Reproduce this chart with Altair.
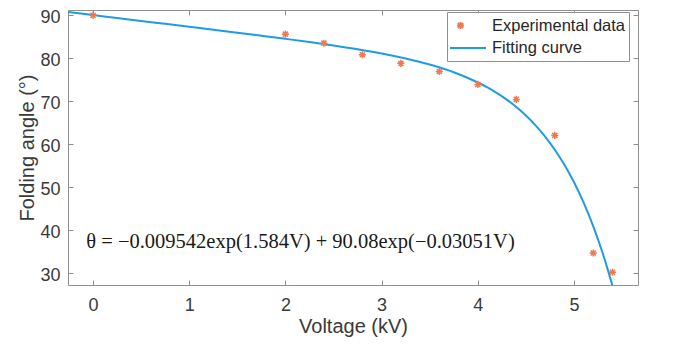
import altair as alt
import pandas as pd

exp_voltage = [0, 2.0, 2.4, 2.8, 3.2, 3.6, 4.0, 4.4, 4.8, 5.2, 5.4]
exp_angle = [90.0, 85.6, 83.5, 80.8, 78.8, 76.9, 73.9, 70.4, 62.0, 34.6, 30.1]

# Fitting curve samples
fit_voltage = [-0.26, 0, 0.25, 0.5, 0.75, 1.0, 1.25, 1.5, 1.75, 2.0, 2.25, 2.5, 2.75,
               3.0, 3.25, 3.5, 3.75, 4.0, 4.1, 4.2, 4.3, 4.4, 4.5, 4.6, 4.7, 4.8,
               4.9, 5.0, 5.1, 5.2, 5.3, 5.35, 5.4]
fit_angle = [90.79, 90.07, 89.38, 88.69, 88.01, 87.33, 86.64, 85.95, 85.24, 84.52,
             83.77, 82.96, 82.09, 81.10, 79.93, 78.52, 76.72, 74.34, 73.18, 71.85,
             70.34, 68.61, 66.63, 64.35, 61.72, 58.67, 55.15, 51.07, 46.33, 40.81,
             34.40, 30.78, 26.92]

series_names = ["Experimental data", "Fitting curve"]
series_colors = ["#EE7A4E", "#1F9BE6"]
x_ticks = [0, 1, 2, 3, 4, 5]
y_ticks = [30, 40, 50, 60, 70, 80, 90]
x_domain = [-0.26, 5.665]
y_domain = [27.13, 91.24]

equation = "θ = −0.009542exp(1.584V) + 90.08exp(−0.03051V)"
eq_x = [-0.07]
eq_y = [37.2]

W, H = 570, 275
FONT = "Liberation Sans"
TXT = "#3a3a3a"
FRAME = "#8f8f8f"

# symbol paths (unit: sqrt(size)/2 = 8.5 px)
asterisk = "M-0.42,0L0.42,0M0,-0.42L0,0.42M-0.3,-0.3L0.3,0.3M-0.3,0.3L0.3,-0.3"
line_sym = "M-1.24,0L3.0,0"

exp_df = pd.DataFrame({"V": exp_voltage, "A": exp_angle,
                       "series": ["Experimental data"] * len(exp_voltage)})
fit_df = pd.DataFrame({"V": fit_voltage, "A": fit_angle})
eq_df = pd.DataFrame({"V": eq_x, "A": eq_y, "t": [equation]})

xscale = alt.Scale(domain=x_domain, nice=False, zero=False)
yscale = alt.Scale(domain=y_domain, nice=False, zero=False)

xaxis = alt.Axis(values=x_ticks, format="d", title="Voltage (kV)", domain=False, ticks=False,
                 grid=True, gridColor=FRAME, gridWidth=1, gridOpacity=1,
                 gridDash=[5, H - 10, 5, 2000],
                 labelFont=FONT, labelFontSize=18, labelColor=TXT, labelPadding=11,
                 titleFont=FONT, titleFontSize=20, titleFontWeight="normal",
                 titleColor=TXT, titlePadding=2)
yaxis = alt.Axis(values=y_ticks, format="d", title="Folding angle (°)", domain=False, ticks=False,
                 grid=True, gridColor=FRAME, gridWidth=1, gridOpacity=1,
                 gridDash=[5, W - 10, 5, 2000],
                 labelFont=FONT, labelFontSize=18, labelColor=TXT, labelPadding=8,
                 labelOffset=2.5,
                 titleFont=FONT, titleFontSize=20, titleFontWeight="normal",
                 titleColor=TXT, titlePadding=2)

legend = alt.Legend(title=None, orient="none", legendX=379, legendY=2,
                    fillColor="white", strokeColor=FRAME, padding=4,
                    labelFont=FONT, labelFontSize=16.5, labelColor="#262626",
                    labelOffset=22, rowPadding=4.5, symbolSize=289,
                    symbolStrokeWidth=1.8)

line = alt.Chart(fit_df).mark_line(color=series_colors[1], strokeWidth=2,
                                   clip=True, interpolate="monotone").encode(
    x=alt.X("V:Q", scale=xscale, axis=xaxis),
    y=alt.Y("A:Q", scale=yscale, axis=yaxis),
)

points = alt.Chart(exp_df).mark_point(filled=False, size=289, strokeWidth=1.5,
                                      opacity=1).encode(
    x=alt.X("V:Q", scale=xscale),
    y=alt.Y("A:Q", scale=yscale),
    color=alt.Color("series:N", scale=alt.Scale(domain=series_names, range=series_colors),
                    legend=legend),
    shape=alt.Shape("series:N", scale=alt.Scale(domain=series_names,
                                                range=[asterisk, line_sym]),
                    legend=legend),
)

text = alt.Chart(eq_df).mark_text(align="left", baseline="middle", font="Liberation Serif",
                                  fontSize=20.5, color="#1a1a1a").encode(
    x=alt.X("V:Q", scale=xscale),
    y=alt.Y("A:Q", scale=yscale),
    text="t:N",
)

chart = alt.layer(line, points, text).properties(
    width=W, height=H,
    autosize=alt.AutoSizeParams(type="none"),
    padding={"left": 60, "top": 2, "right": 30, "bottom": 60},
).configure_view(stroke=FRAME, strokeWidth=1)

chart.save("out.html", embed_options={"renderer": "svg", "actions": False})
